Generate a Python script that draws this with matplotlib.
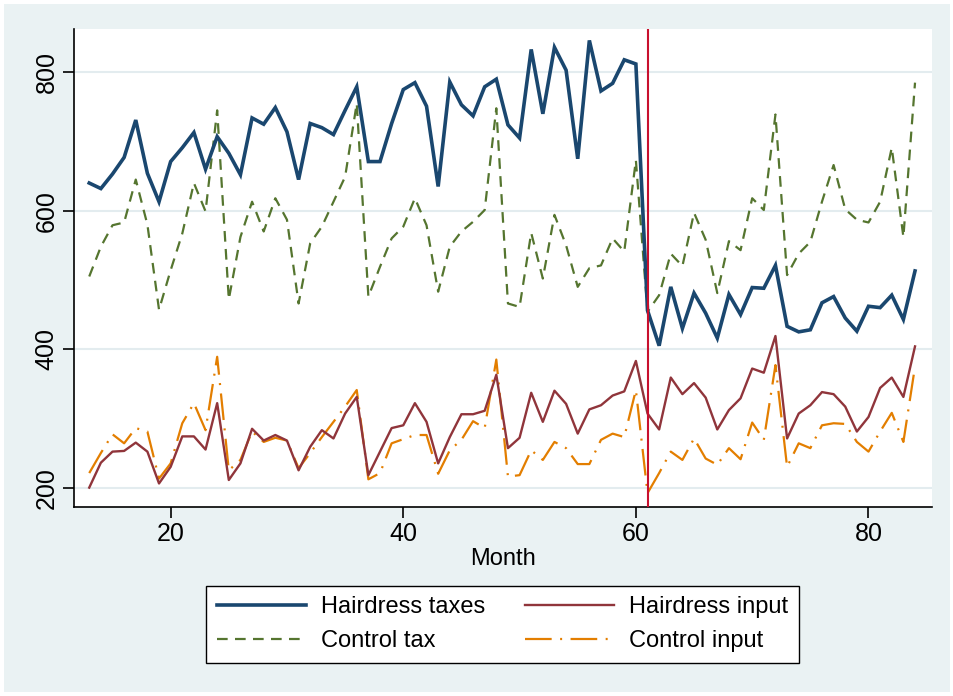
import numpy as np
import matplotlib
matplotlib.use("Agg")
import matplotlib.pyplot as plt
from matplotlib.patches import Rectangle

plt.rcParams['font.family'] = ['Liberation Sans', 'DejaVu Sans']

months = list(range(13, 85))

hairdress_taxes = [640, 632, 653, 677, 731, 654, 613, 671, 691, 713, 660, 707,
                   683, 652, 734, 725, 749, 714, 645, 726, 720, 710, 745, 779,
                   671, 671, 726, 775, 785, 751, 635, 786, 753, 737, 779, 790,
                   724, 705, 833, 740, 836, 803, 675, 846, 773, 784, 818, 812,
                   456, 405, 490, 430, 481, 452, 416, 479, 450, 489, 488, 521,
                   433, 425, 428, 467, 476, 445, 426, 462, 460, 478, 443, 513]

control_tax = [505, 548, 579, 583, 645, 580, 457, 514, 567, 640, 599, 745,
               472, 562, 613, 570, 618, 587, 466, 553, 577, 613, 649, 755,
               476, 519, 560, 577, 618, 579, 483, 548, 570, 584, 601, 748,
               466, 461, 568, 502, 594, 550, 490, 517, 521, 560, 541, 673,
               454, 478, 538, 520, 597, 558, 481, 556, 543, 618, 601, 739,
               507, 538, 555, 613, 666, 602, 587, 583, 613, 691, 562, 785]

hairdress_input = [200, 236, 252, 253, 265, 252, 206, 230, 274, 274, 255, 322,
                   211, 235, 285, 268, 276, 268, 225, 259, 283, 271, 307, 331,
                   218, 252, 286, 290, 322, 295, 235, 273, 306, 306, 311, 363,
                   257, 272, 337, 295, 340, 321, 278, 313, 319, 333, 339, 383,
                   307, 284, 359, 335, 351, 330, 284, 312, 329, 372, 366, 419,
                   271, 307, 319, 338, 335, 317, 281, 302, 344, 359, 331, 404]

control_input = [221, 250, 277, 264, 286, 281, 213, 235, 293, 322, 283, 389,
                 225, 240, 281, 266, 272, 268, 228, 250, 273, 295, 317, 341,
                 212, 221, 264, 270, 276, 276, 220, 254, 269, 296, 286, 385,
                 216, 218, 254, 240, 266, 257, 234, 234, 269, 278, 273, 341,
                 192, 221, 252, 240, 271, 242, 233, 257, 241, 294, 269, 377,
                 230, 264, 257, 290, 293, 292, 266, 252, 281, 308, 266, 375]

series_labels = ["Hairdress taxes", "Hairdress input", "Control tax", "Control input"]
x_ticks = [20, 40, 60, 80]
y_ticks = [200, 400, 600, 800]
event_month = 61
x_label = "Month"

BG = "#eaf2f3"
W, H = 954, 696
fig = plt.figure(figsize=(W / 100, H / 100), dpi=100, facecolor="white")
fig.patches.append(Rectangle((4 / W, 4 / H), 1 - 8 / W, 1 - 8 / H,
                             transform=fig.transFigure, facecolor=BG,
                             edgecolor="none", zorder=-10))

left, right, top, bottom = 74, 932, 29, 507
ax = fig.add_axes([left / W, 1 - bottom / H, (right - left) / W, (bottom - top) / H])
ax.set_zorder(2)
ax.set_facecolor("white")

ax.set_xlim(11.69, 85.46)
ax.set_ylim(172, 862.5)

for yv in y_ticks:
    ax.axhline(yv, color="#e3ecef", lw=1.5, zorder=1)

l1, = ax.plot(months, hairdress_taxes, color="#1a476f", lw=2.6, zorder=5,
              solid_joinstyle="miter", label=series_labels[0])
l2, = ax.plot(months, hairdress_input, color="#90353b", lw=1.7, zorder=4,
              label=series_labels[1])
l3, = ax.plot(months, control_tax, color="#55752f", lw=1.6, zorder=3,
              linestyle=(0, (4.8, 3.3)), label=series_labels[2])
l4, = ax.plot(months, control_input, color="#e37e00", lw=1.6, zorder=3,
              linestyle=(0, (12, 3.8, 0.9, 3.8)), label=series_labels[3])

ax.axvline(event_month, color="#c8102e", lw=1.5, zorder=6)

for s in ["top", "right"]:
    ax.spines[s].set_visible(False)
for s in ["left", "bottom"]:
    ax.spines[s].set_color("black")
    ax.spines[s].set_linewidth(1.2)

ax.set_xticks(x_ticks)
ax.set_yticks(y_ticks)
ax.tick_params(axis="both", direction="out", length=8, width=1.2,
               labelsize=18, colors="black", pad=3)
for lab in ax.get_yticklabels():
    lab.set_rotation(90)
    lab.set_va("center")
ax.set_xlabel(x_label, fontsize=17, labelpad=1)

leg = fig.legend([l1, l3, l2, l4],
                 [series_labels[0], series_labels[2], series_labels[1], series_labels[3]],
                 ncol=2, loc="center", bbox_to_anchor=(0.5268, 0.1029),
                 bbox_transform=fig.transFigure, fontsize=17, frameon=True,
                 fancybox=False, edgecolor="black", framealpha=1.0,
                 handlelength=3.8, handletextpad=0.64, columnspacing=1.65,
                 borderpad=0.45, labelspacing=0.5)
leg.set_zorder(5)
leg.get_frame().set_linewidth(1.0)
leg.get_frame().set_facecolor("white")

fig.savefig("out.png", dpi=100, facecolor=fig.get_facecolor())
